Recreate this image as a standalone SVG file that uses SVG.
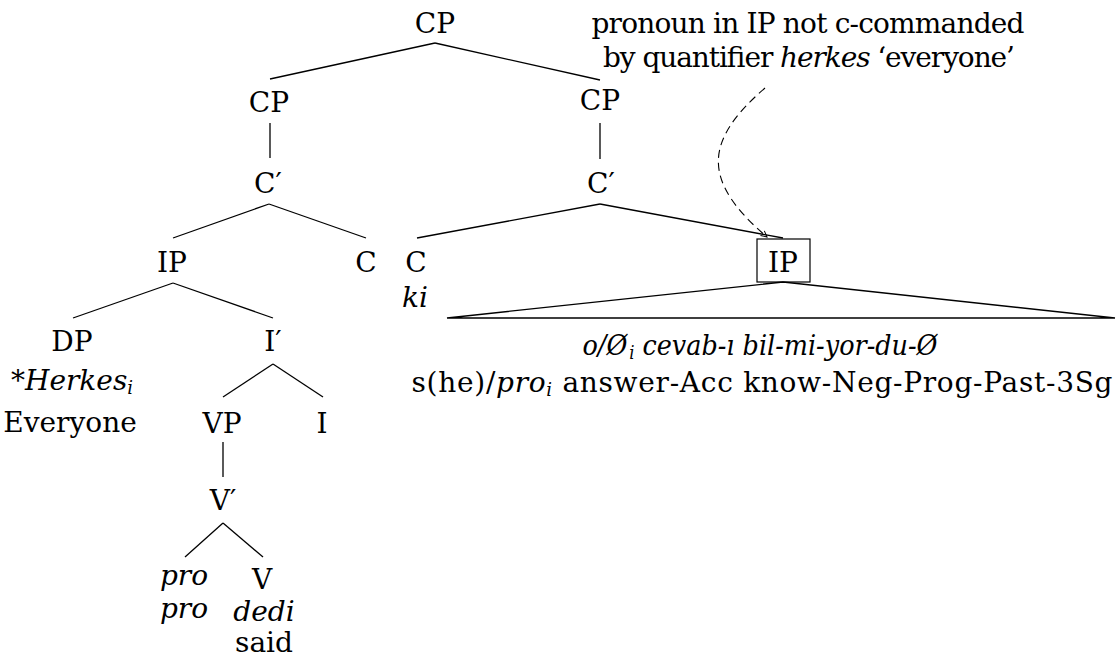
<svg xmlns="http://www.w3.org/2000/svg" width="1119" height="671" viewBox="0 0 1119 671">
  <style>
    .n { text-anchor: middle; }
    .it { font-style: italic; }
    .sub { font-size: 18px; font-style: italic; }
    .edge { stroke: #000; stroke-width: 1.3; fill: none; }
    .note { stroke: #000; stroke-width: 1.1; fill: none; stroke-dasharray: 8 5; }
  </style>
  <defs>
    <marker id="tip" viewBox="0 0 8 8" refX="7" refY="4" markerWidth="8" markerHeight="8" markerUnits="userSpaceOnUse" orient="auto">
      <path d="M1,1 L7,4 L1,7" stroke="#000" stroke-width="1" fill="none"/>
    </marker>
  </defs>

  <rect width="1119" height="671" fill="#fff"/>

  <!-- tree edges -->
  <g id="edges">
    <line class="edge" x1="435" y1="43" x2="270" y2="79"/>
    <line class="edge" x1="435" y1="43" x2="600" y2="80"/>
    <line class="edge" x1="270" y1="123" x2="270" y2="158"/>
    <line class="edge" x1="269" y1="204" x2="173" y2="238"/>
    <line class="edge" x1="269" y1="204" x2="366" y2="238"/>
    <line class="edge" x1="173" y1="283" x2="73" y2="318"/>
    <line class="edge" x1="173" y1="283" x2="273" y2="318"/>
    <line class="edge" x1="273" y1="364" x2="223" y2="397"/>
    <line class="edge" x1="273" y1="364" x2="323" y2="397"/>
    <line class="edge" x1="223" y1="442" x2="223" y2="477"/>
    <line class="edge" x1="223" y1="523" x2="185" y2="557"/>
    <line class="edge" x1="223" y1="523" x2="263" y2="557"/>
    <line class="edge" x1="600" y1="123" x2="600" y2="159"/>
    <line class="edge" x1="600" y1="204" x2="417" y2="238"/>
    <line class="edge" x1="600" y1="204" x2="783" y2="238"/>
    <!-- roof over the embedded clause -->
    <path class="edge" d="M783,282 L447,318 L1115,318 Z"/>
    <!-- dashed pointer from the note to the boxed IP -->
    <path class="note" d="M765,88 C705,140 700,180 767,237" marker-end="url(#tip)"/>
  </g>

  <g font-family="'DejaVu Serif', serif" font-size="28" fill="#000">
  <g id="cp-root"><text class="n" x="435" y="33">CP</text></g>
  <g id="cp-left"><text class="n" x="269" y="112">CP</text></g>
  <g id="cbar-left"><text class="n" x="268" y="193">C′</text></g>
  <g id="ip-left"><text class="n" x="172" y="272">IP</text></g>
  <g id="c-left"><text class="n" x="366" y="272">C</text></g>
  <g id="dp">
    <text class="n" x="72" y="351">DP</text>
    <text class="n" x="72" y="390"><tspan class="it">*Herkes</tspan><tspan class="sub" dy="4">i</tspan></text>
    <text class="n" x="70" y="432">Everyone</text>
  </g>
  <g id="ibar"><text class="n" x="273" y="351">I′</text></g>
  <g id="vp"><text class="n" x="222" y="433">VP</text></g>
  <g id="i-head"><text class="n" x="322" y="433">I</text></g>
  <g id="vbar"><text class="n" x="223" y="510">V′</text></g>
  <g id="pro">
    <text class="n it" x="184" y="585">pro</text>
    <text class="n it" x="184" y="618">pro</text>
  </g>
  <g id="v-head">
    <text class="n" x="262" y="589">V</text>
    <text class="n it" x="264" y="621">dedi</text>
    <text class="n" x="264" y="652">said</text>
  </g>

  <g id="cp-right"><text class="n" x="600" y="110">CP</text></g>
  <g id="cbar-right"><text class="n" x="601" y="193">C′</text></g>
  <g id="c-ki">
    <text class="n" x="416" y="272">C</text>
    <text class="n it" x="415" y="307">ki</text>
  </g>
  <g id="ip-boxed">
    <rect x="757" y="239" width="53" height="43" fill="none" stroke="#000" stroke-width="1.2"/>
    <text class="n" x="783" y="272">IP</text>
  </g>
  <g id="ip-content">
    <text class="n it" x="760" y="355" textLength="355" lengthAdjust="spacingAndGlyphs">o/Ø<tspan class="sub" dx="2" dy="4">i</tspan><tspan dy="-4"> cevab-ı bil-mi-yor-du-Ø</tspan></text>
    <text class="n" x="762" y="392" textLength="701">s(he)/<tspan class="it">pro</tspan><tspan class="sub" dy="4">i</tspan><tspan dy="-4"> answer-Acc know-Neg-Prog-Past-3Sg</tspan></text>
  </g>

  <g id="note">
    <text class="n" x="808" y="33" textLength="433">pronoun in IP not c-commanded</text>
    <text class="n" x="809" y="67" textLength="412">by quantifier <tspan class="it">herkes</tspan> ‘everyone’</text>
  </g>
  </g>
</svg>
